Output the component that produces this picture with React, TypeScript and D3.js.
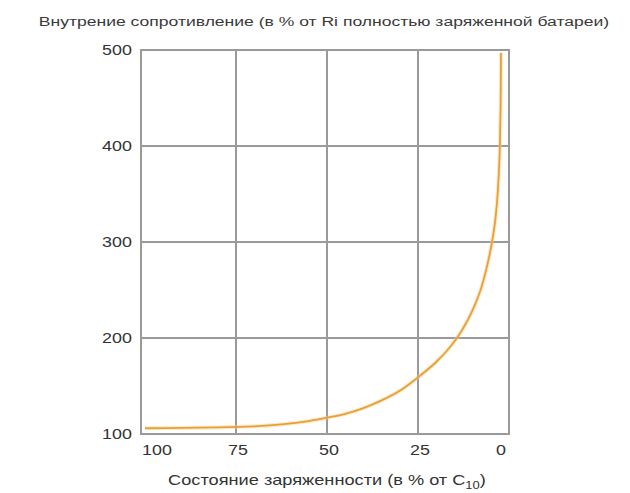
import React from "react";
import * as d3 from "d3";

const socPercent = [100, 90, 80, 70, 62.5, 55, 50, 45, 40, 35, 30, 25, 20, 17, 14.3, 12, 10, 8, 6.5, 5, 4, 3.3, 2.8, 2.5, 2.3, 2.2];
const resistance = [106, 106.3, 106.8, 108, 110, 113.5, 117, 121, 127, 135, 145, 159, 175, 187, 200, 214, 229, 248, 267.5, 293, 316, 341, 371, 401, 443, 497];
const xTicks = [100, 75, 50, 25, 0];
const yTicks = [100, 200, 300, 400, 500];
const titleText = "Внутрение сопротивление (в % от Ri полностью заряженной батареи)";
const xTitleMain = "Состояние заряженности (в % от C";
const xTitleSub = "10";

const W = 630;
const H = 493;
const FONT = "'Liberation Sans', Arial, sans-serif";
const SX = 1.3;

export default function App() {
  const x = d3.scaleLinear().domain([101.1, 0]).range([141, 509]);
  const y = d3.scaleLinear().domain([100, 500]).range([434, 50]);
  const line = d3
    .line<number>()
    .x((_, i) => x(socPercent[i]))
    .y((d) => y(d))
    .curve(d3.curveCatmullRom.alpha(0.5));
  const pts = resistance;
  const grid = "#9a9a9a";

  return (
    <svg
      width={W}
      height={H}
      style={{ position: "absolute", left: 0, top: 0, background: "#fff" }}
      fontFamily={FONT}
    >
      <rect x={0} y={0} width={W} height={H} fill="#fff" />
      <g transform={`translate(324,26) scale(${SX},1)`}>
        <text x={0} y={0} textAnchor="middle" fontSize={13.5} fill="#3a3a3a">
          {titleText}
        </text>
      </g>
      {yTicks.map((t) => (
        <line key={"h" + t} x1={x(101.1)} x2={x(0)} y1={y(t)} y2={y(t)} stroke={grid} strokeWidth={2} />
      ))}
      {[101.1, ...xTicks.slice(1)].map((t) => (
        <line key={"v" + t} x1={x(t)} x2={x(t)} y1={y(500) - 1} y2={y(100) + 1} stroke={grid} strokeWidth={2} />
      ))}
      <path d={line(pts) || ""} fill="none" stroke="#f5cf8a" strokeWidth={4} strokeOpacity={0.45} />
      <path d={line(pts) || ""} fill="none" stroke="#e8a03a" strokeWidth={1.8} />
      {yTicks.map((t) => (
        <g key={"yl" + t} transform={`translate(132,${y(t)}) scale(1.28,1)`}>
          <text x={0} y={0} dy="0.35em" textAnchor="end" fontSize={14} fill="#333">
            {t}
          </text>
        </g>
      ))}
      {xTicks.map((t, i) => {
        const dx = i === 0 ? 12 : i === xTicks.length - 1 ? -8 : 2;
        return (
          <g key={"xl" + t} transform={`translate(${x(t) + dx},455) scale(1.28,1)`}>
            <text x={0} y={0} textAnchor="middle" fontSize={14} fill="#333">
              {t}
            </text>
          </g>
        );
      })}
      <g transform={`translate(327,485) scale(${SX},1)`}>
        <text x={0} y={0} textAnchor="middle" fontSize={14} fill="#333">
          {xTitleMain}
          <tspan fontSize={10} dy={4}>
            {xTitleSub}
          </tspan>
          <tspan dy={-4}>)</tspan>
        </text>
      </g>
    </svg>
  );
}
